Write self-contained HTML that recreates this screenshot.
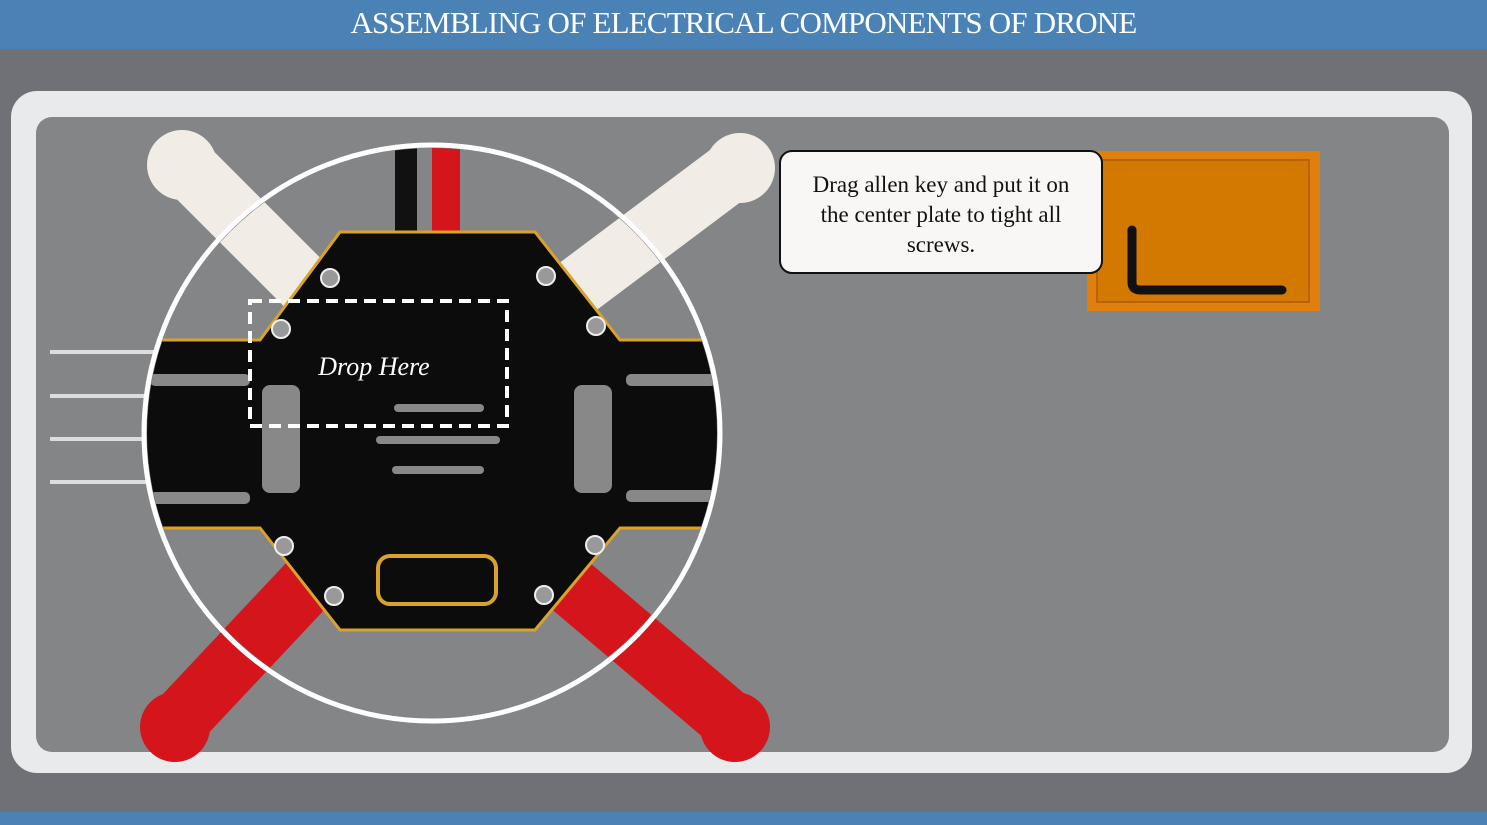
<!DOCTYPE html>
<html><head><meta charset="utf-8"><style>
html,body{margin:0;padding:0}
body{width:1487px;height:825px;overflow:hidden;background:#707176;position:relative;font-family:"Liberation Serif",serif}
.hdr{position:absolute;left:0;top:0;width:1487px;height:49px;background:#4a82b6;color:#fff;font-size:31px;text-align:center;line-height:46px;letter-spacing:-0.8px}
.bot{position:absolute;left:0;top:812px;width:1487px;height:13px;background:#4a82b6}
.panel{position:absolute;left:11px;top:91px;width:1461px;height:682px;background:#e9eaec;border-radius:26px}
.inner{position:absolute;left:36px;top:117px;width:1413px;height:635px;background:#838587;border-radius:16px}
.tip{position:absolute;left:779px;top:150px;width:324px;height:124px;background:#f8f7f5;border:2px solid #111;border-radius:13px;font-family:"Liberation Serif",serif;font-size:23px;color:#111;text-align:center;line-height:30px;box-sizing:border-box;padding:18px 4px 0;white-space:nowrap}
svg{position:absolute;left:0;top:0}
</style></head><body>
<div class="hdr">ASSEMBLING OF ELECTRICAL COMPONENTS OF DRONE</div>
<div class="panel"></div>
<div class="inner"></div>
<svg width="1487" height="825">
 <g stroke="#ddd" stroke-width="4"><line x1="50" y1="352" x2="160" y2="352"/><line x1="50" y1="396" x2="160" y2="396"/><line x1="50" y1="439" x2="160" y2="439"/><line x1="50" y1="482" x2="160" y2="482"/></g>
 <g stroke-linecap="round">
  <line x1="185" y1="165" x2="320" y2="300" stroke="#f1ede6" stroke-width="60"/>
  <line x1="740" y1="165" x2="560" y2="300" stroke="#f1ede6" stroke-width="60"/>
  <line x1="175" y1="725" x2="330" y2="560" stroke="#d4151c" stroke-width="60"/>
  <line x1="735" y1="725" x2="540" y2="560" stroke="#d4151c" stroke-width="60"/>
 </g>
 <circle cx="182" cy="165" r="35" fill="#f1ede6"/><circle cx="740" cy="168" r="35" fill="#f1ede6"/>
 <circle cx="175" cy="727" r="35" fill="#d4151c"/><circle cx="735" cy="727" r="35" fill="#d4151c"/>
 <circle cx="432" cy="433" r="288" fill="#838587" stroke="#fff" stroke-width="5"/>
 <clipPath id="c"><circle cx="432" cy="433" r="285"/></clipPath>
 <g clip-path="url(#c)">
  <line x1="185" y1="165" x2="320" y2="300" stroke="#f1ede6" stroke-width="60"/>
  <line x1="740" y1="165" x2="560" y2="300" stroke="#f1ede6" stroke-width="60"/>
  <line x1="175" y1="725" x2="330" y2="560" stroke="#d4151c" stroke-width="60"/>
  <line x1="735" y1="725" x2="540" y2="560" stroke="#d4151c" stroke-width="60"/>
  <rect x="395" y="145" width="22" height="150" fill="#111"/><rect x="432" y="145" width="28" height="150" fill="#d4151c"/>
  <path d="M140 340 L260 340 L340 232 L535 232 L620 340 L720 340 L720 528 L620 528 L535 630 L340 630 L260 528 L140 528 Z" fill="#0c0c0c" stroke="#d9a22a" stroke-width="3"/>
  <rect x="378" y="556" width="118" height="48" rx="12" fill="none" stroke="#d9a22a" stroke-width="4"/>
  <g fill="#888"><rect x="262" y="385" width="38" height="108" rx="8"/><rect x="574" y="385" width="38" height="108" rx="8"/>
  <rect x="394" y="404" width="90" height="8" rx="4"/><rect x="376" y="436" width="124" height="8" rx="4"/><rect x="392" y="466" width="92" height="8" rx="4"/>
  <rect x="150" y="374" width="100" height="12" rx="5"/><rect x="150" y="492" width="100" height="12" rx="5"/><rect x="626" y="374" width="90" height="12" rx="5"/><rect x="626" y="490" width="90" height="12" rx="5"/></g>
  <g fill="#999" stroke="#eee" stroke-width="2"><circle cx="330" cy="278" r="9"/><circle cx="546" cy="276" r="9"/><circle cx="281" cy="329" r="9"/><circle cx="596" cy="326" r="9"/><circle cx="284" cy="546" r="9"/><circle cx="595" cy="545" r="9"/><circle cx="334" cy="596" r="9"/><circle cx="544" cy="595" r="9"/></g>
 </g>
 <rect x="250" y="301" width="257" height="125" fill="none" stroke="#fff" stroke-width="4" stroke-dasharray="12,7"/>
 <text x="374" y="375" fill="#fff" font-family="Liberation Serif,serif" font-style="italic" font-size="26" text-anchor="middle">Drop Here</text>
 <rect x="1087" y="151" width="233" height="160" fill="#e07f0c"/>
 <rect x="1097" y="160" width="212" height="142" fill="#d37800" stroke="#b86200" stroke-width="2"/>
 <path d="M1132 230 L1132 282 Q1132 290 1140 290 L1282 290" fill="none" stroke="#111" stroke-width="9" stroke-linecap="round"/>
</svg>
<div class="tip">Drag allen key and put it on<br>the center plate to tight all<br>screws.</div>
<div class="bot"></div>
</body></html>
